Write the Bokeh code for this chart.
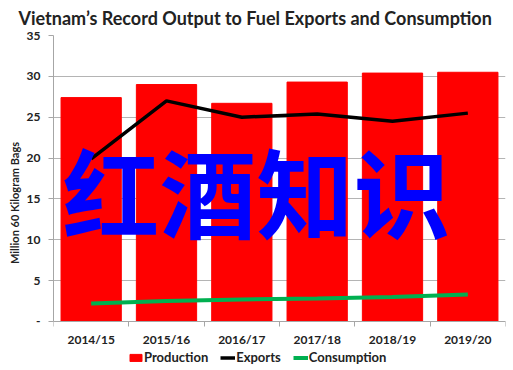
from bokeh.plotting import figure
from bokeh.models import (FixedTicker, Label, Legend, LegendItem, ColumnDataSource)
from bokeh.embed import file_html
from bokeh.resources import INLINE

categories = ["2014/15", "2015/16", "2016/17", "2017/18", "2018/19", "2019/20"]
production = [27.4, 29.0, 26.7, 29.3, 30.4, 30.5]
exports = [19.9, 27.0, 25.0, 25.4, 24.5, 25.5]
consumption = [2.2, 2.5, 2.7, 2.8, 3.0, 3.3]
y_ticks = [0, 5, 10, 15, 20, 25, 30, 35]

FONT = "Lato"
xs = [i + 0.5 for i in range(len(categories))]
src = ColumnDataSource(dict(x=xs, cat=categories, prod=production, exp=exports, con=consumption))

# frame runs to the bottom of the canvas so the legend below the axis is not clipped
p = figure(width=513, height=370, output_backend="svg", toolbar_location=None,
           x_range=(0, len(categories)), y_range=(-6.0, 35),
           min_border_left=53, min_border_right=8, min_border_top=35, min_border_bottom=0,
           title="Vietnam\u2019s Record Output to Fuel Exports and Consumption")
p.outline_line_color = None
p.background_fill_color = "white"

p.title.text_font = FONT
p.title.text_font_style = "bold"
p.title.text_font_size = "18px"
p.title.text_color = "#222222"
p.title.align = "left"
p.title.offset = -35
p.title.vertical_align = "top"
p.title.standoff = 10

bars = p.vbar(x="x", top="prod", width=0.8, source=src, fill_color="#FF0000", line_color="#FF0000")
l_exp = p.line(x="x", y="exp", source=src, line_color="black", line_width=3.5)
l_con = p.line(x="x", y="con", source=src, line_color="#00B050", line_width=4)

# y axis
p.yaxis.ticker = FixedTicker(ticks=y_ticks)
p.yaxis.bounds = (0, 35)
p.yaxis.major_label_overrides = {0: "-"}
p.yaxis.major_label_text_font = FONT
p.yaxis.major_label_text_font_style = "bold"
p.yaxis.major_label_text_font_size = "12px"
p.yaxis.major_label_text_color = "#222222"
p.yaxis.axis_line_color = "#A6A6A6"
p.yaxis.major_tick_line_color = "#A6A6A6"
p.yaxis.major_tick_out = 5
p.yaxis.major_tick_in = 0
p.yaxis.minor_tick_line_color = None
p.yaxis.major_label_standoff = 8
p.yaxis.axis_label = "Million 60 Kilogram Bags"
p.yaxis.axis_label_text_font = FONT
p.yaxis.axis_label_text_font_style = "bold"
p.yaxis.axis_label_text_font_size = "11px"
p.yaxis.axis_label_text_color = "#222222"
p.yaxis.axis_label_standoff = 3

# x axis, drawn at y = 0 inside the frame
p.xaxis.fixed_location = 0
p.xaxis.ticker = FixedTicker(ticks=xs, minor_ticks=list(range(len(categories) + 1)))
p.xaxis.major_label_overrides = {x: c for x, c in zip(xs, categories)}
p.xaxis.major_label_text_font = FONT
p.xaxis.major_label_text_font_style = "bold"
p.xaxis.major_label_text_font_size = "12px"
p.xaxis.major_label_text_color = "#222222"
p.xaxis.major_tick_line_color = None
p.xaxis.minor_tick_line_color = "#A6A6A6"
p.xaxis.minor_tick_out = 5
p.xaxis.minor_tick_in = 0
p.xaxis.axis_line_color = "#A6A6A6"
p.xaxis.major_label_standoff = 5

p.xgrid.visible = False
p.ygrid.grid_line_color = "#B4B4B4"
p.ygrid.grid_line_width = 1

legend = Legend(items=[LegendItem(label="Production", renderers=[bars]),
                       LegendItem(label="Exports", renderers=[l_exp]),
                       LegendItem(label="Consumption", renderers=[l_con])],
                orientation="horizontal", location=(75, 5),
                label_text_font=FONT, label_text_font_style="bold",
                label_text_font_size="13px", label_text_color="#222222",
                glyph_width=15, glyph_height=9, label_standoff=1, spacing=12,
                padding=0, margin=0, border_line_color=None,
                background_fill_alpha=0, label_height=12)
p.add_layout(legend)

wm = Label(x=203, y=182, x_units="screen", y_units="screen", text="红酒知识",
           text_font="Noto Sans CJK SC", text_font_style="bold",
           text_font_size="97px", text_align="center", text_baseline="middle",
           text_color="#0000FF")
p.add_layout(wm)

open("out.html", "w").write(file_html(p, INLINE))
